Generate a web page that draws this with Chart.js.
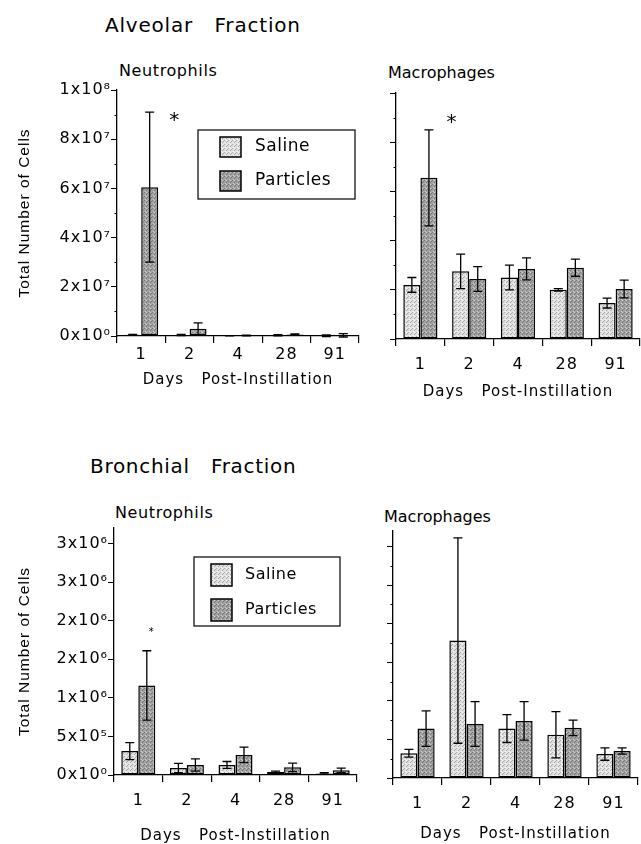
<!DOCTYPE html>
<html>
<head>
<meta charset="utf-8">
<script src="https://cdn.jsdelivr.net/npm/chart.js@4.4.0/dist/chart.umd.min.js"></script>
<style>
  body { margin: 0; background: #fff; }
  #page { position: relative; width: 641px; height: 844px; overflow: hidden; background: #fff; }
  canvas { position: absolute; }
  .lbl { position: absolute; font-family: "DejaVu Sans", sans-serif; color: #000; white-space: pre; line-height: 1; }
</style>
</head>
<body>
<div id="page">
  <div class="lbl" style="left:105px; top:15px; font-size:20px; letter-spacing:0.8px;">Alveolar   Fraction</div>
  <div class="lbl" style="left:119px; top:63px; font-size:16px; letter-spacing:0.6px;">Neutrophils</div>
  <div class="lbl" style="left:388px; top:65px; font-size:16px;">Macrophages</div>
  <div class="lbl" style="left:90px; top:456px; font-size:20px; letter-spacing:0.7px;">Bronchial   Fraction</div>
  <div class="lbl" style="left:115px; top:505px; font-size:16px; letter-spacing:0.6px;">Neutrophils</div>
  <div class="lbl" style="left:384px; top:509px; font-size:16px;">Macrophages</div>
  <canvas id="alvNeu" width="365" height="340" style="left:0px; top:60px;"></canvas>
  <canvas id="alvMac" width="301" height="350" style="left:340px; top:60px;"></canvas>
  <canvas id="broNeu" width="365" height="344" style="left:0px; top:500px;"></canvas>
  <canvas id="broMac" width="301" height="344" style="left:340px; top:500px;"></canvas>
</div>
<script>
const days = ['1', '2', '4', '28', '91'];
const seriesNames = ['Saline', 'Particles'];

// alveolar fraction, neutrophils
const alvNeuSaline = [0.5e6, 0.4e6, 0.1e6, 0.3e6, 0.1e6];
const alvNeuSalineSd = [0.2e6, 0.2e6, 0.05e6, 0.2e6, 0.3e6];
const alvNeuParticles = [6.05e7, 2.9e6, 0.2e6, 0.6e6, 0.3e6];
const alvNeuParticlesSd = [3.05e7, 2.4e6, 0.1e6, 0.3e6, 0.7e6];

// alveolar fraction, macrophages
const alvMacSaline = [2.2e7, 2.75e7, 2.5e7, 2.0e7, 1.46e7];
const alvMacSalineSd = [0.3e7, 0.7e7, 0.5e7, 0.05e7, 0.2e7];
const alvMacParticles = [6.55e7, 2.44e7, 2.85e7, 2.9e7, 2.03e7];
const alvMacParticlesSd = [1.95e7, 0.5e7, 0.45e7, 0.35e7, 0.36e7];

// bronchial fraction, neutrophils
const broNeuSaline = [3.1e5, 0.9e5, 1.3e5, 0.4e5, 0.2e5];
const broNeuSalineSd = [1.1e5, 0.6e5, 0.45e5, 0.1e5, 0.1e5];
const broNeuParticles = [1.16e6, 1.3e5, 2.6e5, 1.0e5, 0.6e5];
const broNeuParticlesSd = [0.45e6, 0.8e5, 1.0e5, 0.55e5, 0.3e5];

// bronchial fraction, macrophages
const broMacSaline = [0.32e6, 1.78e6, 0.64e6, 0.56e6, 0.31e6];
const broMacSalineSd = [0.05e6, 1.33e6, 0.18e6, 0.3e6, 0.08e6];
const broMacParticles = [0.64e6, 0.7e6, 0.74e6, 0.65e6, 0.35e6];
const broMacParticlesSd = [0.23e6, 0.29e6, 0.25e6, 0.1e6, 0.04e6];

// y tick labels
const alvTickLabels = ['0x10⁰', '2x10⁷', '4x10⁷', '6x10⁷', '8x10⁷', '1x10⁸'];
const broTickLabels = ['0x10⁰', '5x10⁵', '1x10⁶', '2x10⁶', '2x10⁶', '3x10⁶', '3x10⁶'];

// significance marks: [day index, value]
const alvNeuStar = [0, 8.75e7];
const alvMacStar = [0, 8.8e7];
const broNeuStar = [0, 1.85e6];

function makePattern(base, dark, light) {
  const c = document.createElement('canvas');
  c.width = 4; c.height = 4;
  const g = c.getContext('2d');
  g.fillStyle = base; g.fillRect(0, 0, 4, 4);
  g.fillStyle = dark;
  g.fillRect(0, 0, 1, 1); g.fillRect(2, 2, 1, 1); g.fillRect(3, 1, 1, 1);
  g.fillStyle = light;
  g.fillRect(1, 3, 1, 1); g.fillRect(2, 0, 1, 1);
  return g.createPattern(c, 'repeat');
}
const salineFill = makePattern('#e0e0e0', '#a9a9a9', '#f6f6f6');
const particlesFill = makePattern('#a2a2a2', '#777777', '#cdcdcd');

// wider text, closer to the original typeface
const wideText = {
  id: 'wideText',
  beforeDraw(chart) { chart.ctx.letterSpacing = '1px'; },
  afterDraw(chart) { chart.ctx.letterSpacing = '0px'; }
};

// short marks for the minor y ticks (the library draws the long ones)
const minorTicks = {
  id: 'minorTicks',
  afterDraw(chart, args, opts) {
    const y = chart.scales.y, ctx = chart.ctx;
    ctx.save();
    ctx.strokeStyle = '#000';
    ctx.lineWidth = 1;
    y.ticks.forEach((t, i) => {
      if (i % opts.major === 0) return;
      const py = Math.round(y.getPixelForValue(t.value)) + 0.5;
      ctx.beginPath();
      ctx.moveTo(y.right - 2.5, py);
      ctx.lineTo(y.right, py);
      ctx.stroke();
    });
    ctx.restore();
  }
};

const errorBars = {
  id: 'errorBars',
  afterDatasetsDraw(chart) {
    const ctx = chart.ctx, y = chart.scales.y;
    ctx.save();
    ctx.strokeStyle = '#000';
    ctx.lineWidth = 1.3;
    chart.data.datasets.forEach((ds, i) => {
      chart.getDatasetMeta(i).data.forEach((bar, j) => {
        const hi = y.getPixelForValue(ds.data[j] + ds.sd[j]);
        const lo = y.getPixelForValue(ds.data[j] - ds.sd[j]);
        const x = bar.x, cap = 4.5;
        ctx.beginPath();
        ctx.moveTo(x, hi); ctx.lineTo(x, lo);
        ctx.moveTo(x - cap, hi); ctx.lineTo(x + cap, hi);
        ctx.moveTo(x - cap, lo); ctx.lineTo(x + cap, lo);
        ctx.stroke();
      });
    });
    ctx.restore();
  }
};

const starMark = {
  id: 'starMark',
  afterDatasetsDraw(chart, args, opts) {
    if (!opts.at) return;
    const bar = chart.getDatasetMeta(1).data[opts.at[0]];
    const ctx = chart.ctx;
    ctx.save();
    ctx.fillStyle = '#000';
    ctx.font = opts.size + 'px "DejaVu Sans"';
    ctx.textAlign = 'center';
    ctx.textBaseline = 'middle';
    ctx.fillText('*', bar.x + opts.dx, chart.scales.y.getPixelForValue(opts.at[1]));
    ctx.restore();
  }
};

const boxLegend = {
  id: 'boxLegend',
  afterDraw(chart, args, opts) {
    if (!opts.box) return;
    const ctx = chart.ctx, b = opts.box;
    ctx.save();
    ctx.letterSpacing = '0.5px';
    ctx.fillStyle = '#fff';
    ctx.fillRect(b[0], b[1], b[2], b[3]);
    ctx.strokeStyle = '#000';
    ctx.lineWidth = 1.2;
    ctx.strokeRect(b[0], b[1], b[2], b[3]);
    ctx.font = opts.size + 'px "DejaVu Sans"';
    ctx.textBaseline = 'middle';
    chart.data.datasets.forEach((ds, i) => {
      const sy = opts.rows[i];
      ctx.fillStyle = ds.backgroundColor;
      ctx.fillRect(opts.swX, sy, opts.sw, opts.sh);
      ctx.lineWidth = 1.5;
      ctx.strokeRect(opts.swX, sy, opts.sw, opts.sh);
      ctx.fillStyle = '#000';
      ctx.fillText(ds.label, opts.textX, sy + opts.sh / 2);
    });
    ctx.restore();
  }
};

function makeChart(id, saline, salineSd, particles, particlesSd, s) {
  return new Chart(document.getElementById(id), {
    type: 'bar',
    data: {
      labels: days,
      datasets: [
        { label: seriesNames[0], data: saline, sd: salineSd, backgroundColor: salineFill,
          borderColor: '#000', borderWidth: 1.5, borderSkipped: false },
        { label: seriesNames[1], data: particles, sd: particlesSd, backgroundColor: particlesFill,
          borderColor: '#000', borderWidth: 1.5, borderSkipped: false }
      ]
    },
    options: {
      responsive: false,
      animation: false,
      devicePixelRatio: 1,
      layout: { padding: { top: s.padTop, right: s.padRight, left: 0, bottom: 0 } },
      datasets: { bar: { categoryPercentage: 0.7, barPercentage: 1 } },
      plugins: {
        legend: { display: false },
        tooltip: { enabled: false },
        minorTicks: { major: s.major },
        starMark: s.star || {},
        boxLegend: s.legend || {}
      },
      scales: {
        x: {
          offset: true,
          grid: { offset: true, drawOnChartArea: false, tickLength: 7, color: '#000', lineWidth: 1.2 },
          border: { display: true, color: '#000', width: 1.3 },
          ticks: { color: '#000', font: { family: 'DejaVu Sans', size: 16 }, padding: s.xTickPad, maxRotation: 0 },
          title: { display: true, text: 'Days   Post-Instillation', color: '#000',
                   font: { family: 'DejaVu Sans', size: 15, lineHeight: 1 },
                   padding: { top: 0, bottom: s.xTitlePad } },
          afterFit(scale) { scale.height = s.xAxisH; }
        },
        y: {
          min: 0,
          max: s.yMax,
          grid: {
            drawOnChartArea: false, tickLength: 6, lineWidth: 1,
            tickColor: c => (c.index % s.major === 0 ? '#000' : 'rgba(0,0,0,0)')
          },
          border: { display: true, color: '#000', width: 1.3 },
          ticks: {
            autoSkip: false,
            padding: 0,
            color: '#000',
            font: { family: 'DejaVu Sans', size: 16 },
            callback: (v, i) => s.tickLabels ? (i % s.major === 0 ? s.tickLabels[i / s.major] : '') : ''
          },
          afterBuildTicks(scale) {
            const t = [];
            for (let k = 0; k * s.step <= s.tickTop * 1.0001; k++) t.push({ value: k * s.step });
            scale.ticks = t;
            scale.min = 0;
            scale.max = s.yMax;
          },
          title: { display: !!s.yTitle, text: 'Total Number of Cells', color: '#000',
                   font: { family: 'Liberation Sans', size: 15.5, lineHeight: 1 },
                   padding: { top: 17, bottom: 0 } },
          afterFit(scale) { scale.width = s.yAxisW; }
        }
      }
    },
    plugins: [wideText, minorTicks, errorBars, starMark, boxLegend]
  });
}

makeChart('alvNeu', alvNeuSaline, alvNeuSalineSd, alvNeuParticles, alvNeuParticlesSd, {
  padTop: 30, padRight: 6, yAxisW: 117, xAxisH: 64, xTickPad: 2, xTitlePad: 12,
  yMax: 1e8, tickTop: 1e8, step: 1e7, major: 2, tickLabels: alvTickLabels, yTitle: true,
  star: { at: alvNeuStar, dx: 25, size: 20 },
  legend: { box: [198, 70, 157, 69], swX: 220, sw: 21, sh: 20, rows: [77, 111], textX: 255, size: 17 }
});

makeChart('alvMac', alvMacSaline, alvMacSalineSd, alvMacParticles, alvMacParticlesSd, {
  padTop: 33, padRight: 1, yAxisW: 56, xAxisH: 71, xTickPad: 9, xTitlePad: 10,
  yMax: 1e8, tickTop: 1e8, step: 1e7, major: 2, yTitle: false,
  star: { at: alvMacStar, dx: 23, size: 20 }
});

makeChart('broNeu', broNeuSaline, broNeuSalineSd, broNeuParticles, broNeuParticlesSd, {
  padTop: 28, padRight: 8, yAxisW: 114, xAxisH: 69, xTickPad: 9, xTitlePad: 0,
  yMax: 3.2e6, tickTop: 3e6, step: 5e5, major: 1, tickLabels: broTickLabels, yTitle: true,
  star: { at: broNeuStar, dx: 5, size: 10 },
  legend: { box: [194, 57, 146, 69], swX: 211, sw: 21, sh: 22, rows: [64, 99], textX: 245, size: 16 }
});

makeChart('broMac', broMacSaline, broMacSalineSd, broMacParticles, broMacParticlesSd, {
  padTop: 31, padRight: 3, yAxisW: 53, xAxisH: 66, xTickPad: 9, xTitlePad: 2,
  yMax: 3.2e6, tickTop: 3e6, step: 2.5e5, major: 2, yTitle: false
});
</script>
</body>
</html>
